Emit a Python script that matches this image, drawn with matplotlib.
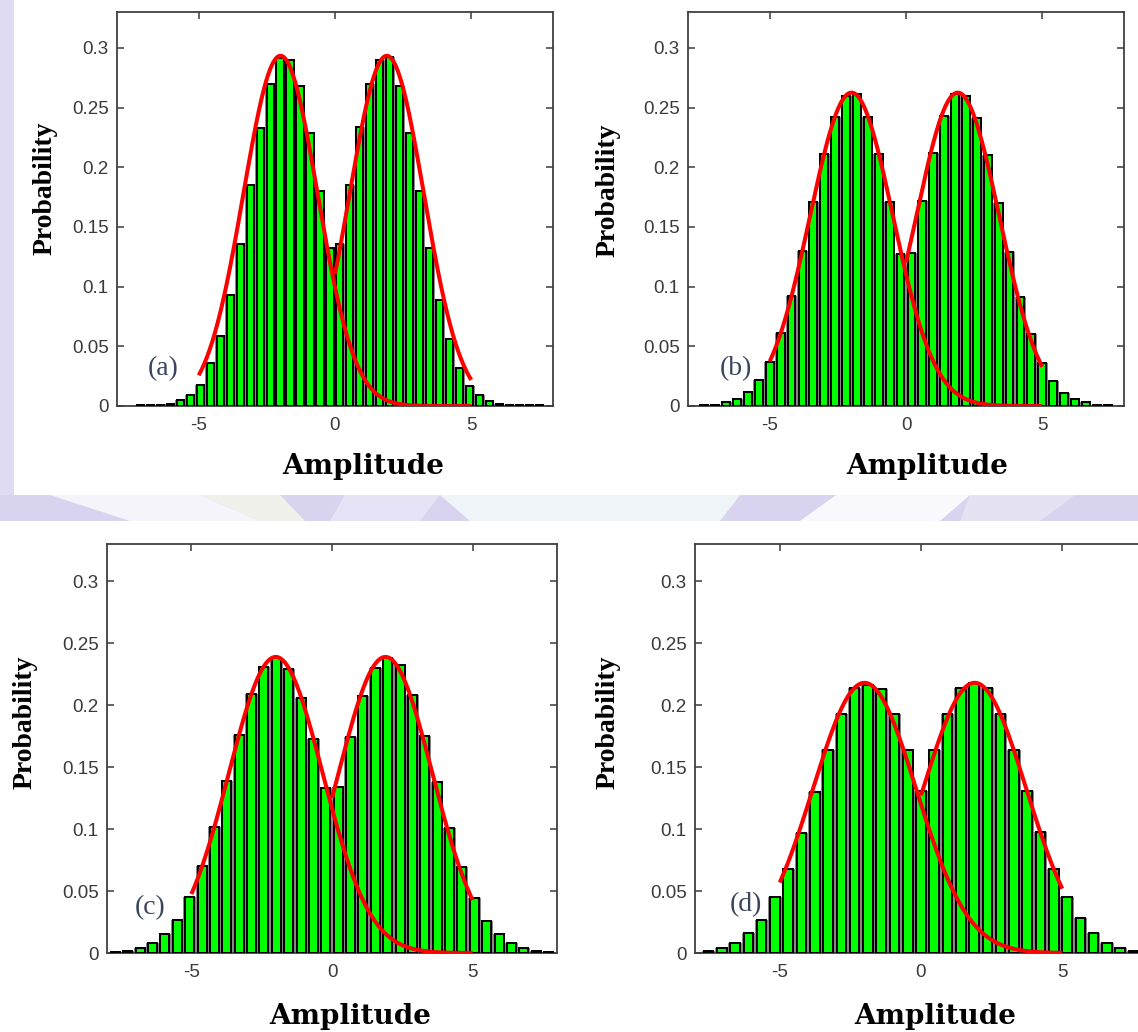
"""
Amplitude histograms with two fitted Gaussian components, four noise levels (a)-(d)
"""

import numpy as np
import matplotlib.pyplot as plt
from matplotlib.patches import Rectangle, Polygon

# ---- data -------------------------------------------------------------
panel_tags = ['(a)', '(b)', '(c)', '(d)']

# bin spacing and centre of the first bin for each histogram
bin_step = [0.366, 0.40, 0.44, 0.47]
first_center = [-7.14, -7.40, -7.70, -7.52]

# bar heights (probability per bin)
prob_a = [0.0005, 0.001, 0.001, 0.002, 0.005, 0.009, 0.018, 0.036, 0.059, 0.093,
          0.136, 0.185, 0.233, 0.270, 0.2915, 0.290, 0.268, 0.229, 0.180, 0.132,
          0.136, 0.185, 0.234, 0.270, 0.290, 0.292, 0.268, 0.229, 0.180, 0.132,
          0.089, 0.056, 0.032, 0.017, 0.009, 0.004, 0.002, 0.001, 0.001, 0.0005,
          0.0005]
prob_b = [0.0005, 0.001, 0.003, 0.006, 0.012, 0.022, 0.037, 0.061, 0.092, 0.130,
          0.171, 0.211, 0.242, 0.260, 0.261, 0.242, 0.211, 0.171, 0.127,
          0.128, 0.172, 0.212, 0.243, 0.261, 0.260, 0.241, 0.210, 0.170, 0.129,
          0.091, 0.060, 0.036, 0.021, 0.011, 0.006, 0.003, 0.001, 0.0005]
prob_c = [0.0007, 0.0017, 0.004, 0.008, 0.015, 0.027, 0.045, 0.070, 0.102, 0.139,
          0.176, 0.209, 0.231, 0.238, 0.229, 0.206, 0.173, 0.133,
          0.134, 0.174, 0.207, 0.230, 0.238, 0.232, 0.208, 0.175, 0.138, 0.101,
          0.069, 0.044, 0.026, 0.015, 0.008, 0.004, 0.0017, 0.0007]
prob_d = [0.002, 0.004, 0.008, 0.016, 0.027, 0.045, 0.068, 0.097, 0.130, 0.164,
          0.193, 0.214, 0.216, 0.213, 0.193, 0.164, 0.131, 0.164, 0.193, 0.214,
          0.218, 0.214, 0.193, 0.164, 0.131, 0.098, 0.068, 0.045, 0.028, 0.016,
          0.008, 0.004, 0.002]
probs = [prob_a, prob_b, prob_c, prob_d]

# fitted Gaussian components: means and standard deviations
comp_means = [-2.0, 1.9]
comp_sigma = [1.36, 1.52, 1.67, 1.83]
left_fit_range = (-5.0, 5.0)
right_fit_range = (0.0, 5.0)

y_ticks = [0, 0.05, 0.1, 0.15, 0.2, 0.25, 0.3]
y_tick_labels = ['0', '0.05', '0.1', '0.15', '0.2', '0.25', '0.3']
x_ticks = [-5, 0, 5]

# ---- layout (pixels on a 1138 x 1032 canvas) ---------------------------
W, H = 1138, 1032


def fig_rect(left, top, right, bottom):
    return [left / W, 1 - bottom / H, (right - left) / W, (bottom - top) / H]


def fig_xy(x, y):
    return x / W, 1 - y / H


axes_px = [(117, 12, 553, 406), (688, 12, 1124, 406),
           (107, 544, 557, 953), (695, 544, 1147, 953)]
ylabel_px = [(45, 188), (608, 190), (25, 722), (608, 722)]
xlabel_px = [(363, 467), (927, 467), (350, 1017), (935, 1017)]
tag_pos = [(-6.3, 0.031), (-6.25, 0.031), (-6.45, 0.037), (-6.2, 0.039)]

fig = plt.figure(figsize=(W / 100, H / 100), dpi=100)
fig.patch.set_facecolor('white')

# lavender page decoration between the two rows
lav = '#d8d4ef'
fig.patches.append(Rectangle(fig_xy(0, 521), 1, 26 / H, transform=fig.transFigure,
                             facecolor=lav, edgecolor='none', zorder=0))
fig.patches.append(Rectangle(fig_xy(0, 495), 14 / W, 495 / H, transform=fig.transFigure,
                             facecolor='#dedbf2', edgecolor='none', zorder=0))
light_patches = [
    ([(50, 495), (200, 495), (260, 521), (130, 521)], 'white', 0.75),
    ([(200, 495), (280, 495), (305, 521), (260, 521)], '#f5f7ea', 0.85),
    ([(345, 495), (440, 495), (420, 521), (330, 521)], '#e9e7f7', 0.8),
    ([(440, 495), (740, 495), (720, 521), (470, 521)], '#f1f8f9', 0.9),
    ([(836, 495), (970, 495), (940, 521), (800, 521)], 'white', 0.85),
    ([(970, 495), (1075, 495), (1040, 521), (960, 521)], '#e8e6f5', 0.8),
]
for pts, col, alpha in light_patches:
    fig.patches.append(Polygon([fig_xy(x, y) for x, y in pts], closed=True,
                               transform=fig.transFigure, facecolor=col,
                               edgecolor='none', alpha=alpha, zorder=0))


def gauss(x, mu, sigma):
    return np.exp(-(x - mu) ** 2 / (2 * sigma ** 2)) / (sigma * np.sqrt(2 * np.pi))


for i in range(4):
    ax = fig.add_axes(fig_rect(*axes_px[i]))
    ax.set_facecolor('white')

    heights = np.array(probs[i])
    centers = first_center[i] + bin_step[i] * np.arange(len(heights))

    # gray backing shows through the thin gaps between bars
    ax.bar(centers, heights, width=bin_step[i], color='#8a8a8a',
           edgecolor='none', zorder=2)
    ax.bar(centers, heights, width=bin_step[i] * 0.72, color='#00ff00',
           edgecolor='black', linewidth=1.45, zorder=3)

    # fitted components
    sig = comp_sigma[i]
    xl = np.linspace(*left_fit_range, 300)
    xr = np.linspace(*right_fit_range, 200)
    ax.plot(xl, gauss(xl, comp_means[0], sig), color='red', lw=2.9,
            solid_capstyle='butt', zorder=4)
    ax.plot(xr, gauss(xr, comp_means[1], sig), color='red', lw=2.9,
            solid_capstyle='butt', zorder=4)

    ax.set_xlim(-8, 8)
    ax.set_ylim(0, 0.33)
    ax.set_xticks(x_ticks)
    ax.set_xticklabels([str(t) for t in x_ticks])
    ax.set_yticks(y_ticks)
    ax.set_yticklabels(y_tick_labels)
    ax.tick_params(direction='in', top=True, right=True, length=5, width=1.1,
                   colors='#3a3a3a', labelsize=13.5)
    ax.tick_params(axis='x', pad=8)
    ax.tick_params(axis='y', pad=6)
    for lab in ax.get_xticklabels() + ax.get_yticklabels():
        lab.set_family('Liberation Sans')
    for sp in ax.spines.values():
        sp.set_color('#404040')
        sp.set_linewidth(1.3)

    ax.text(tag_pos[i][0], tag_pos[i][1], panel_tags[i], family='Liberation Serif',
            fontsize=20, color='#3a4560', ha='center', va='center', zorder=5)

    fig.text(*fig_xy(*ylabel_px[i]), 'Probability', family='Liberation Serif',
             fontweight='bold', fontsize=20, rotation=90, ha='center', va='center')
    fig.text(*fig_xy(*xlabel_px[i]), 'Amplitude', family='DejaVu Serif',
             fontweight='bold', fontsize=20, ha='center', va='center')

fig.savefig('out.png', dpi=100, facecolor='white')
